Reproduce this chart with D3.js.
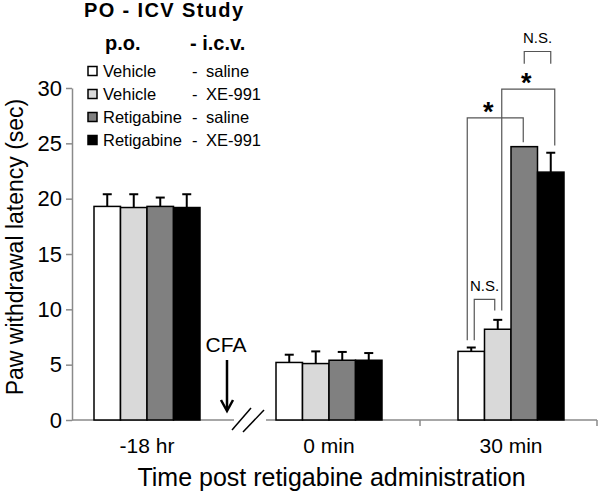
<!DOCTYPE html>
<html>
<head>
<meta charset="utf-8">
<script src="https://cdn.jsdelivr.net/npm/d3@7"></script>
<style>
  body { margin: 0; background: #fff; }
  svg { display: block; font-family: "Liberation Sans", Arial, Helvetica, sans-serif; }
</style>
</head>
<body>
<svg id="chart" width="600" height="497"></svg>
<script>
// ---------------- DATA ----------------
const categories = ["-18 hr", "0 min", "30 min"];
const seriesPO  = ["Vehicle", "Vehicle", "Retigabine", "Retigabine"];
const seriesICV = ["saline", "XE-991", "saline", "XE-991"];

// mean paw withdrawal latency (sec), one array per group, per category
const vehicleSaline    = [19.3, 5.2, 6.2];
const vehicleXE991     = [19.2, 5.1, 8.2];
const retigabineSaline = [19.3, 5.4, 24.7];
const retigabineXE991  = [19.2, 5.4, 22.4];

// error (upper) per category
const vehicleSalineErr    = [1.1, 0.7, 0.35];
const vehicleXE991Err     = [1.2, 1.1, 0.85];
const retigabineSalineErr = [0.8, 0.75, 0.0];
const retigabineXE991Err  = [1.2, 0.65, 1.75];

const yTicks = [0, 5, 10, 15, 20, 25, 30];

// significance comparisons at "30 min": series a vs b, bracket top and leg bottoms (sec)
const compCategory = "30 min";
const compA      = [0, 0, 1, 2];
const compB      = [1, 2, 3, 3];
const compLabel  = ["N.S.", "*", "*", "N.S."];
const compTop    = [10.9, 27.3, 29.9, 33.3];
const compBotA   = [7.2, 7.2, 9.9, 32.2];
const compBotB   = [9.9, 25.1, 24.8, 32.2];

// ---------------- STYLE / LAYOUT ----------------
const fills = ["#ffffff", "#d9d9d9", "#808080", "#000000"];
const axisColor = "#8a8a8a";
const bracketColor = "#555555";
const compOffA = [3, -4, 4, 0];
const compOffB = [-3, -1, 4, 0];
const compLabelDx = [0, -7, -2, 0];

const values = [vehicleSaline, vehicleXE991, retigabineSaline, retigabineXE991];
const errors = [vehicleSalineErr, vehicleXE991Err, retigabineSalineErr, retigabineXE991Err];

const svg = d3.select("#chart");
const axisLeftX = 72, axisRightX = 597;

const y = d3.scaleLinear().domain([0, 30]).range([420, 88]);
const x0 = d3.scalePoint().domain(categories).range([147, 511]);
const x1 = d3.scaleBand().domain(d3.range(4)).range([-53, 53]);
const barX = (ci, si) => x0(categories[ci]) + x1(si);
const barCenter = (ci, si) => barX(ci, si) + x1.bandwidth() / 2;

// ---------- Y axis ----------
const yAxis = svg.append("g")
  .attr("transform", `translate(${axisLeftX},0)`)
  .call(d3.axisLeft(y).tickValues(yTicks).tickSize(6).tickSizeOuter(0).tickPadding(4));
yAxis.select(".domain").attr("stroke", axisColor).attr("stroke-width", 1.5);
yAxis.selectAll(".tick line").attr("stroke", axisColor).attr("stroke-width", 1.5);
yAxis.selectAll(".tick text").attr("font-size", 22).attr("fill", "#000")
  .attr("font-family", "Liberation Sans, Arial, sans-serif");

svg.append("text")
  .attr("transform", `translate(23,247) rotate(-90)`)
  .attr("text-anchor", "middle")
  .attr("font-size", 23)
  .text("Paw withdrawal latency (sec)");

// ---------- X axis with break ----------
const breakMid = (x0(categories[0]) + x0(categories[1])) / 2;
const baseY = y(0);
const xAxisG = svg.append("g").attr("stroke", axisColor).attr("stroke-width", 1.5).attr("fill", "none");
xAxisG.append("line").attr("x1", axisLeftX).attr("x2", breakMid - 4).attr("y1", baseY).attr("y2", baseY);
xAxisG.append("line").attr("x1", breakMid + 28).attr("x2", axisRightX).attr("y1", baseY).attr("y2", baseY);
// category boundary ticks
const tickXs = [(x0(categories[1]) + x0(categories[2])) / 2, axisRightX];
tickXs.forEach(tx => {
  xAxisG.append("line").attr("x1", tx).attr("x2", tx).attr("y1", baseY).attr("y2", baseY + 6);
});
// break slashes
const slashG = svg.append("g").attr("stroke", "#000").attr("stroke-width", 1.5);
slashG.append("line").attr("x1", breakMid - 6).attr("y1", baseY + 10).attr("x2", breakMid + 13).attr("y2", baseY - 12);
slashG.append("line").attr("x1", breakMid + 5).attr("y1", baseY + 12).attr("x2", breakMid + 26).attr("y2", baseY - 10);

// category labels
svg.append("g").selectAll("text").data(categories).join("text")
  .attr("x", d => x0(d))
  .attr("y", 453)
  .attr("text-anchor", "middle")
  .attr("font-size", 21)
  .text(d => d);

svg.append("text")
  .attr("x", (axisLeftX + axisRightX) / 2 - 3)
  .attr("y", 486)
  .attr("text-anchor", "middle")
  .attr("font-size", 25)
  .text("Time post retigabine administration");

// ---------- Bars ----------
const barData = [];
categories.forEach((c, ci) => {
  values.forEach((arr, si) => {
    barData.push({ ci, si, v: arr[ci], e: errors[si][ci] });
  });
});

// error bars (drawn first so bars cover the bottom of the line)
const errG = svg.append("g").attr("stroke", "#000").attr("stroke-width", 2);
barData.filter(d => d.e > 0).forEach(d => {
  const cx = barCenter(d.ci, d.si);
  errG.append("line").attr("x1", cx).attr("x2", cx).attr("y1", y(d.v)).attr("y2", y(d.v + d.e));
  errG.append("line").attr("x1", cx - 4.5).attr("x2", cx + 4.5).attr("y1", y(d.v + d.e)).attr("y2", y(d.v + d.e));
});

svg.append("g").selectAll("rect").data(barData).join("rect")
  .attr("x", d => barX(d.ci, d.si))
  .attr("y", d => y(d.v))
  .attr("width", x1.bandwidth())
  .attr("height", d => y(0) - y(d.v))
  .attr("fill", d => fills[d.si])
  .attr("stroke", "#000")
  .attr("stroke-width", 1.5);

// ---------- CFA annotation ----------
const cfaX = breakMid - 11;
svg.append("text").attr("x", cfaX - 1).attr("y", 352).attr("text-anchor", "middle")
  .attr("font-size", 21).text("CFA");
const arrowG = svg.append("g").attr("stroke", "#000").attr("stroke-width", 2.5).attr("fill", "none");
arrowG.append("line").attr("x1", cfaX).attr("x2", cfaX).attr("y1", 360).attr("y2", 410);
arrowG.append("path").attr("d", `M${cfaX - 6},400 L${cfaX},411 L${cfaX + 6},400`);

// ---------- Significance brackets ----------
const ciComp = categories.indexOf(compCategory);
const brG = svg.append("g").attr("stroke", bracketColor).attr("stroke-width", 1.2).attr("fill", "none");
compA.forEach((a, i) => {
  const xa = barCenter(ciComp, a) + compOffA[i];
  const xb = barCenter(ciComp, compB[i]) + compOffB[i];
  const yt = y(compTop[i]);
  brG.append("path").attr("d", `M${xa},${y(compBotA[i])} V${yt} H${xb} V${y(compBotB[i])}`);
  const isStar = compLabel[i] === "*";
  svg.append("text")
    .attr("x", (xa + xb) / 2 + compLabelDx[i])
    .attr("y", isStar ? yt + 3 : yt - 8)
    .attr("text-anchor", "middle")
    .attr("font-size", isStar ? 27 : 15)
    .attr("font-weight", isStar ? "bold" : "normal")
    .text(compLabel[i]);
});

// ---------- Legend ----------
svg.append("text").attr("x", 84).attr("y", 17).attr("font-size", 20).attr("font-weight", "bold")
  .attr("textLength", 159).attr("lengthAdjust", "spacing").text("PO - ICV Study");
svg.append("text").attr("x", 105).attr("y", 50).attr("font-size", 20).attr("font-weight", "bold").text("p.o.");
svg.append("text").attr("x", 190).attr("y", 50).attr("font-size", 20).attr("font-weight", "bold").text("- i.c.v.");

const legRows = d3.range(4);
const legY = i => 71 + i * 23;
const legG = svg.append("g");
legG.selectAll("rect").data(legRows).join("rect")
  .attr("x", 88).attr("y", i => legY(i) - 4.5).attr("width", 9).attr("height", 9)
  .attr("fill", i => fills[i]).attr("stroke", "#000").attr("stroke-width", 1.5);
legG.selectAll("text.po").data(legRows).join("text").attr("class", "po")
  .attr("x", 103).attr("y", i => legY(i) + 6).attr("font-size", 16.5).text(i => seriesPO[i]);
legG.selectAll("text.dash").data(legRows).join("text").attr("class", "dash")
  .attr("x", 192).attr("y", i => legY(i) + 6).attr("font-size", 16.5).text("-");
legG.selectAll("text.icv").data(legRows).join("text").attr("class", "icv")
  .attr("x", 206).attr("y", i => legY(i) + 6).attr("font-size", 16.5).text(i => seriesICV[i]);
</script>
</body>
</html>
